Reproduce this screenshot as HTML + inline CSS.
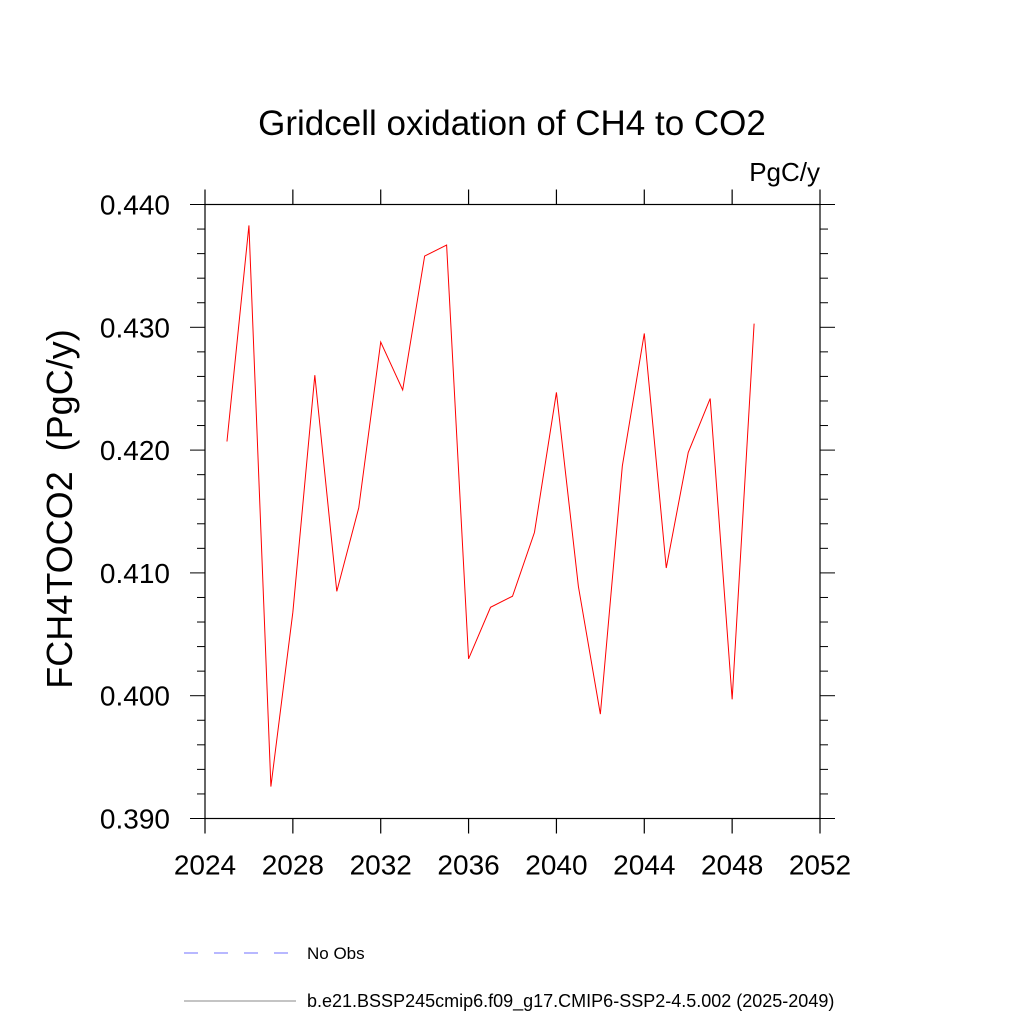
<!DOCTYPE html>
<html><head><meta charset="utf-8"><style>body{margin:0;background:#fff}svg{display:block}text{font-family:"Liberation Sans",sans-serif}</style></head>
<body>
<svg id="c" width="1024" height="1024">
<text x="512" y="135" text-anchor="middle" font-size="35">Gridcell oxidation of CH4 to CO2</text>
<text x="820" y="181" text-anchor="end" font-size="26">PgC/y</text>
<text transform="translate(72,509) rotate(-90)" text-anchor="middle" font-size="36" xml:space="preserve" style="white-space:pre">FCH4TOCO2  (PgC/y)</text>
<g id="axes"></g>
<g id="series"></g>
<line x1="184" y1="953" x2="296" y2="953" stroke="#7070ff" stroke-width="1" stroke-dasharray="14,16"/>
<text x="307" y="959" font-size="17">No Obs</text>
<line x1="184" y1="1001" x2="296" y2="1001" stroke="#888" stroke-width="1"/>
<text x="307" y="1007" font-size="18">b.e21.BSSP245cmip6.f09_g17.CMIP6-SSP2-4.5.002 (2025-2049)</text>
</svg>
<script>
const years=[2025,2026,2027,2028,2029,2030,2031,2032,2033,2034,2035,2036,2037,2038,2039,2040,2041,2042,2043,2044,2045,2046,2047,2048,2049];
const values=[0.4207,0.4383,0.3926,0.4068,0.4261,0.4085,0.4153,0.4288,0.4249,0.4358,0.4367,0.4030,0.4072,0.4081,0.4133,0.4247,0.4089,0.3985,0.4187,0.4295,0.4104,0.4198,0.4242,0.3997,0.4303];
const xTicks=[2024,2028,2032,2036,2040,2044,2048,2052];
const yTicks=[0.390,0.400,0.410,0.420,0.430,0.440];
const yTickLabels=["0.390","0.400","0.410","0.420","0.430","0.440"];
const L=205,R=820,T=204.5,B=818.5,X0=2024,X1=2052,Y0=0.390,Y1=0.440;
const sx=v=>L+(v-X0)/(X1-X0)*(R-L), sy=v=>B-(v-Y0)/(Y1-Y0)*(B-T);
const NS="http://www.w3.org/2000/svg";
const ax=document.getElementById('axes'), se=document.getElementById('series');
function mk(tag,at,p){const e=document.createElementNS(NS,tag);for(const k in at)e.setAttribute(k,at[k]);p.appendChild(e);return e;}
const fr=mk('rect',{x:L,y:T,width:R-L,height:B-T,fill:'none',stroke:'#000','stroke-width':1.2},ax);


xTicks.forEach(v=>{const x=sx(v);
 const t1=mk('line',{x1:x,y1:B,x2:x,y2:B+15,stroke:'#000','stroke-width':1.2},ax);
 
 
 const t2=mk('line',{x1:x,y1:T,x2:x,y2:T-15,stroke:'#000','stroke-width':1.2},ax);
 
 
 const tx=mk('text',{x:x,y:B+56,'text-anchor':'middle','font-size':28},ax);tx.textContent=v;
 
 
});
for(let i=0;i<=25;i++){const v=Y0+i*0.002,y=sy(v),maj=i%5===0;
 const a=mk('line',{x1:L,y1:y,x2:L-(maj?15:8),y2:y,stroke:'#000','stroke-width':1},ax);
 
 
 const b=mk('line',{x1:R,y1:y,x2:R+(maj?15:8),y2:y,stroke:'#000','stroke-width':1},ax);
 
 
}
yTicks.forEach((v,i)=>{const tx=mk('text',{x:L-35,y:sy(v)+10,'text-anchor':'end','font-size':28},ax);tx.textContent=yTickLabels[i];
 
 
});
const pl=mk('polyline',{points:years.map((y,i)=>sx(y)+','+sy(values[i])).join(' '),fill:'none',stroke:'#ff0000','stroke-width':1},se);


</script>
</body></html>
